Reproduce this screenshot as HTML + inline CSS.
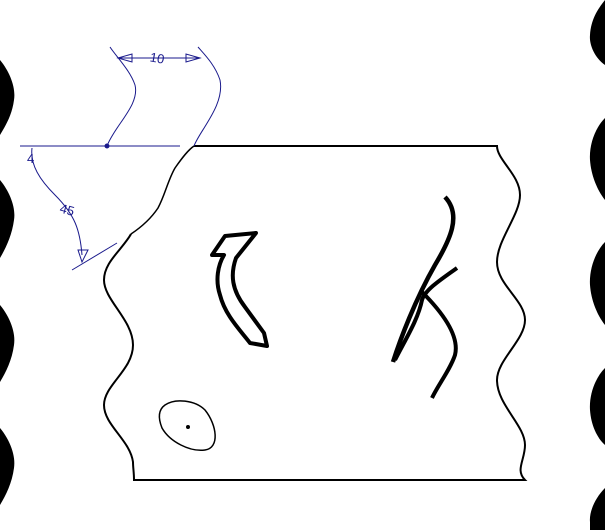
<!DOCTYPE html>
<html><head><meta charset="utf-8"><style>html,body{margin:0;padding:0;background:#fff}svg{display:block}</style></head>
<body>
<svg width="605" height="530" viewBox="0 0 605 530">
<g fill="#000">
<path d="M0,60 C10,72 16,88 14,100 C12,115 6,125 0,135 Z"/>
<path d="M0,180 C10,192 16,208 14,220 C12,235 6,248 0,258 Z"/>
<path d="M0,305 C10,317 16,333 14,345 C12,360 6,372 0,382 Z"/>
<path d="M0,428 C10,440 16,456 14,468 C12,483 6,495 0,505 Z"/>
</g>
<g fill="#000">
<path d="M605,0 L605,65 C595,58 589,45 590,35 C591,20 597,10 605,0 Z"/>
<path d="M605,118 C595,128 589,145 590,160 C591,175 597,190 605,200 Z"/>
<path d="M605,242 C595,252 589,270 590,285 C591,300 597,315 605,325 Z"/>
<path d="M605,368 C595,378 589,395 590,410 C591,425 597,438 605,445 Z"/>
<path d="M605,488 C595,498 589,512 590,522 L590,530 L605,530 Z"/>
</g>
<g fill="none" stroke="#000" stroke-width="2">
<path d="M194,146 L497,146 C497,160 520,175 520,195 C520,215 497,240 497,262 C497,285 525,300 525,320 C525,340 497,360 497,380 C497,405 525,425 525,445 C525,460 515,470 525,480 L134,480 C134,472 133,468 133,462 C130,440 104,425 104,405 C104,385 133,370 133,345 C133,320 104,300 104,280 C104,262 122,250 131,234"/>
<path d="M131,234 C140,228 150,220 158,208 C165,195 168,180 175,168 C182,158 188,150 194,146" stroke-width="1.5"/>
</g>
<g fill="none" stroke="#1a1a8c" stroke-width="1">
<line x1="20" y1="146" x2="180" y2="146"/>
<circle cx="107" cy="146" r="2" fill="#1a1a8c"/>
<path d="M107,146 C115,125 140,105 135,85 C130,70 115,55 110,47"/>
<path d="M194,146 C200,130 225,105 220,80 C215,65 205,55 198,47"/>
<line x1="118" y1="58" x2="200" y2="58"/>
<path d="M118,58 L132,54 L132,62 Z"/>
<path d="M200,58 L186,54 L186,62 Z"/>
<path d="M32,148 C30,165 40,180 55,195 C75,215 80,230 82,255"/>
<line x1="72" y1="270" x2="117" y2="243"/>
<path d="M82,262 L78,250 L88,250 Z"/>
</g>
<text x="150" y="63" font-family="Liberation Sans, sans-serif" font-size="13" fill="#1a1a8c" transform="rotate(10 160 58)">10</text>
<text x="27" y="163" font-family="Liberation Sans, sans-serif" font-size="13" fill="#1a1a8c">4</text>
<text x="60" y="215" font-family="Liberation Sans, sans-serif" font-size="13" fill="#1a1a8c" transform="rotate(15 70 210)">45</text>
<g fill="none" stroke="#000">
<path d="M212,255 L225,236 L256,233 L236,258 C230,275 232,290 245,307 L264,333 L267,346 L250,343 C240,330 225,315 220,295 C215,280 218,265 224,255 Z" stroke-width="4" stroke-linejoin="round"/>
<path d="M445,197 C462,215 450,240 435,265 C415,300 400,340 393,362" stroke-width="4.5"/>
<path d="M457,268 C440,280 425,290 422,300 C418,320 405,340 395,360" stroke-width="4"/>
<path d="M422,292 C440,310 460,335 455,355 C450,370 438,385 432,398" stroke-width="4"/>
<path d="M165,405 C175,398 195,400 205,410 C217,425 220,448 205,450 C190,452 170,442 162,428 C158,418 158,410 165,405 Z" stroke-width="1.5"/>
<circle cx="188" cy="427" r="1.5" fill="#000"/>
</g>
</svg>
</body></html>
